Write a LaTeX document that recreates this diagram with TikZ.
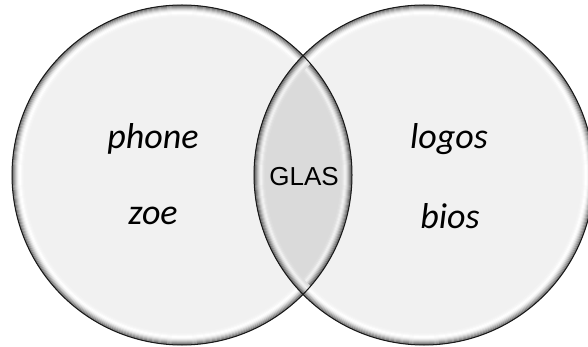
\documentclass[tikz,border=0pt]{standalone}
\usepackage{fontspec}
\setmainfont{Carlito}
\newfontfamily\glasfont{Liberation Sans}
\tikzset{
  word/.style={font=\fontsize{36}{38}\selectfont\itshape, inner sep=0pt, text=black},
  glas/.style={font=\glasfont\fontsize{26}{28}\selectfont, inner sep=0pt, text=black},
  outline/.style={draw=black!90, line width=1pt},
}
\newcommand{\rimrings}[4]{% center x, center y, radius, list of colors
  \foreach \c [count=\k] in {#4} {
    \draw[line width=1.15pt, color=\c] (#1,#2) circle ({#3-\k+0.5});
  }
}
\definecolor{r0}{HTML}{666666}
\definecolor{r1}{HTML}{828282}
\definecolor{r2}{HTML}{9E9E9E}
\definecolor{r3}{HTML}{B9B9B9}
\definecolor{r4}{HTML}{D2D2D2}
\definecolor{r5}{HTML}{E6E6E6}
\definecolor{r6}{HTML}{F5F5F5}
\definecolor{r7}{HTML}{FDFDFD}
\definecolor{r8}{HTML}{FFFFFF}
\definecolor{r9}{HTML}{FAFAFA}
\definecolor{r10}{HTML}{F6F6F6}
\definecolor{r11}{HTML}{F3F3F3}
\definecolor{base}{HTML}{F1F1F1}
\definecolor{l0}{HTML}{5E5E5E}
\definecolor{l1}{HTML}{777777}
\definecolor{l2}{HTML}{939393}
\definecolor{l3}{HTML}{B0B0B0}
\definecolor{l4}{HTML}{CACACA}
\definecolor{l5}{HTML}{E0E0E0}
\definecolor{l6}{HTML}{EEEEEE}
\definecolor{l7}{HTML}{F2F2F2}
\definecolor{l8}{HTML}{EAEAEA}
\definecolor{l9}{HTML}{E2E2E2}
\definecolor{l10}{HTML}{DDDDDD}
\definecolor{lbase}{HTML}{DADADA}
\begin{document}
\begin{tikzpicture}[x=1pt,y=-1pt]
\useasboundingbox (0,0) rectangle (588,347);
\clip (0,0) rectangle (588,347);
% left circle
\fill[base] (182,175) circle (170);
\rimrings{182}{175}{170}{r0,r1,r2,r3,r4,r5,r6,r7,r8,r9,r10,r11}
% right circle
\fill[base] (424,175) circle (170);
\rimrings{424}{175}{170}{r0,r1,r2,r3,r4,r5,r6,r7,r8,r9,r10,r11}
% lens
\begin{scope}
  \clip (182,175) circle (170);
  \clip (424,175) circle (170);
  \fill[lbase] (182,175) circle (170);
  \rimrings{182}{175}{170}{l0,l1,l2,l3,l4,l5,l6,l7,l8,l9,l10}
  \rimrings{424}{175}{170}{l0,l1,l2,l3,l4,l5,l6,l7,l8,l9,l10}
\end{scope}
% outlines
\draw[outline] (182,175) circle (170);
\draw[outline] (424,175) circle (170);
% texts
\node[word] (phone) at (153,139) {phone};
\node[word] (zoe) at (153,216) {zoe};
\node[word] (logos) at (449,139) {logos};
\node[word] (bios) at (450,216) {bios};
\node[glas] (glas) at (304,177) {GLAS};
\end{tikzpicture}
\end{document}
